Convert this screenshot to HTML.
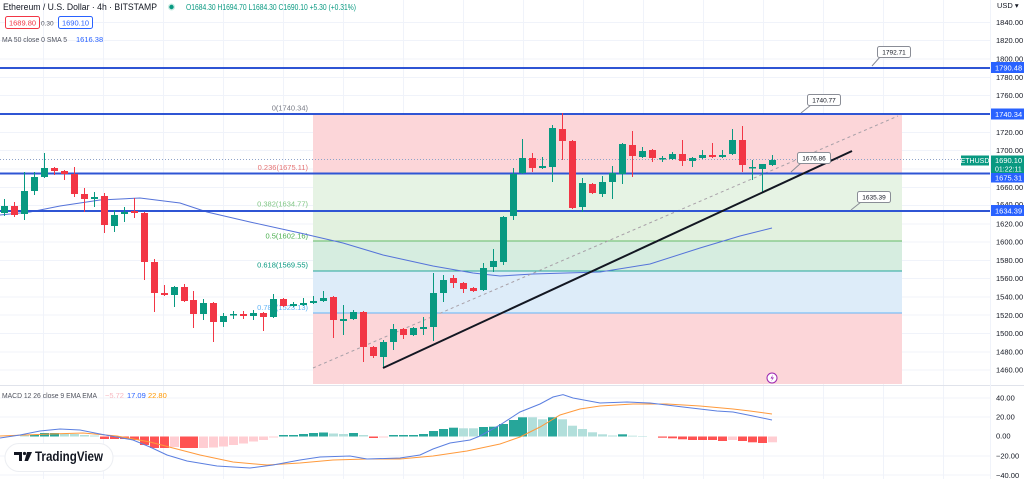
<!DOCTYPE html>
<html><head><meta charset="utf-8"><style>
html,body{margin:0;padding:0;background:#fff;}
svg{display:block;font-family:"Liberation Sans",sans-serif;}
</style></head><body>
<svg width="1024" height="479" viewBox="0 0 1024 479" xmlns="http://www.w3.org/2000/svg">
<rect width="1024" height="479" fill="#fff"/>
<!-- vertical grid -->
<g stroke="#f0f3fa" stroke-width="1">
<line x1="43.5" y1="0" x2="43.5" y2="479"/><line x1="103.5" y1="0" x2="103.5" y2="479"/><line x1="163.5" y1="0" x2="163.5" y2="479"/><line x1="223.5" y1="0" x2="223.5" y2="479"/><line x1="283.5" y1="0" x2="283.5" y2="479"/><line x1="343.5" y1="0" x2="343.5" y2="479"/><line x1="403.5" y1="0" x2="403.5" y2="479"/><line x1="463.5" y1="0" x2="463.5" y2="479"/><line x1="523.5" y1="0" x2="523.5" y2="479"/><line x1="583.5" y1="0" x2="583.5" y2="479"/><line x1="643.5" y1="0" x2="643.5" y2="479"/><line x1="703.5" y1="0" x2="703.5" y2="479"/><line x1="763.5" y1="0" x2="763.5" y2="479"/><line x1="823.5" y1="0" x2="823.5" y2="479"/><line x1="883.5" y1="0" x2="883.5" y2="479"/><line x1="943.5" y1="0" x2="943.5" y2="479"/>
</g>
<!-- horizontal grid -->
<g stroke="#f0f3fa" stroke-width="1">
<line x1="0" y1="22.5" x2="990" y2="22.5"/><line x1="0" y1="40.5" x2="990" y2="40.5"/><line x1="0" y1="59" x2="990" y2="59"/><line x1="0" y1="77.5" x2="990" y2="77.5"/><line x1="0" y1="95.5" x2="990" y2="95.5"/><line x1="0" y1="114" x2="990" y2="114"/><line x1="0" y1="132.5" x2="990" y2="132.5"/><line x1="0" y1="150.5" x2="990" y2="150.5"/><line x1="0" y1="169" x2="990" y2="169"/><line x1="0" y1="187.5" x2="990" y2="187.5"/><line x1="0" y1="205.5" x2="990" y2="205.5"/><line x1="0" y1="224" x2="990" y2="224"/><line x1="0" y1="242" x2="990" y2="242"/><line x1="0" y1="260.5" x2="990" y2="260.5"/><line x1="0" y1="278.5" x2="990" y2="278.5"/><line x1="0" y1="297" x2="990" y2="297"/><line x1="0" y1="315" x2="990" y2="315"/><line x1="0" y1="333.5" x2="990" y2="333.5"/><line x1="0" y1="352" x2="990" y2="352"/><line x1="0" y1="370" x2="990" y2="370"/>
<line x1="0" y1="398" x2="990" y2="398"/><line x1="0" y1="417" x2="990" y2="417"/><line x1="0" y1="456" x2="990" y2="456"/><line x1="0" y1="475" x2="990" y2="475"/>
</g>
<!-- fib zones -->
<rect x="313" y="114" width="589" height="59" fill="#fcd6d9"/>
<rect x="313" y="173" width="589" height="38" fill="#e6f3e4"/>
<rect x="313" y="211" width="589" height="30" fill="#e2f1df"/>
<rect x="313" y="241" width="589" height="30" fill="#d6ede0"/>
<rect x="313" y="271" width="589" height="42" fill="#ddecf9"/>
<rect x="313" y="313" width="589" height="71" fill="#fcd6d9"/>
<line x1="313" y1="241" x2="902" y2="241" stroke="#66bb6a" stroke-width="1"/>
<line x1="313" y1="271" x2="902" y2="271" stroke="#26a69a" stroke-width="1"/>
<line x1="313" y1="313" x2="902" y2="313" stroke="#64b5f6" stroke-width="1"/>
<!-- fib labels -->
<g font-size="7.5" text-anchor="end">
<text x="308" y="110.5" fill="#787b86">0(1740.34)</text>
<text x="308" y="170" fill="#e57373">0.236(1675.11)</text>
<text x="308" y="206.5" fill="#81c784">0.382(1634.77)</text>
<text x="308" y="238.5" fill="#4caf50">0.5(1602.16)</text>
<text x="308" y="267.5" fill="#089981">0.618(1569.55)</text>
<text x="308" y="310" fill="#64b5f6">0.786(1523.13)</text>
</g>
<!-- current price dotted -->
<line x1="0" y1="159.5" x2="990" y2="159.5" stroke="#8fa3c8" stroke-width="1" stroke-dasharray="1 2"/>
<!-- MA line -->
<polyline fill="none" stroke="#5573d9" stroke-width="1" points="0,215 30,212 60,206 100,200 140,198 180,203 207,212 250,222 300,233 343,243 383,255 433,266 473,273 500,276 533,274 600,272 650,264 700,248 740,236 772,228"/>
<!-- dashed line -->
<line x1="313" y1="368" x2="898" y2="116" stroke="#a8a0a8" stroke-width="1" stroke-dasharray="3 3"/>
<!-- horizontal lines -->
<g stroke="#2f55d4" stroke-width="2">
<line x1="0" y1="68" x2="991" y2="68"/>
<line x1="0" y1="114" x2="991" y2="114"/>
<line x1="0" y1="173.5" x2="991" y2="173.5"/>
<line x1="0" y1="211" x2="991" y2="211"/>
</g>
<!-- candles -->
<g fill="#089981">
<rect x="4" y="199" width="1" height="17"/><rect x="1" y="206" width="7" height="7"/>
<rect x="24" y="172" width="1" height="48"/><rect x="21" y="191" width="7" height="23"/>
<rect x="34" y="172" width="1" height="23"/><rect x="31" y="177" width="7" height="14"/>
<rect x="44" y="153" width="1" height="25"/><rect x="41" y="168" width="7" height="9"/>
<rect x="94" y="192" width="1" height="15"/><rect x="91" y="197" width="7" height="2"/>
<rect x="114" y="210" width="1" height="22"/><rect x="111" y="215" width="7" height="11"/>
<rect x="124" y="207" width="1" height="15"/><rect x="121" y="212" width="7" height="2"/>
<rect x="174" y="286" width="1" height="21"/><rect x="171" y="287" width="7" height="8"/>
<rect x="203" y="299" width="1" height="21"/><rect x="200" y="303" width="7" height="11"/>
<rect x="223" y="313" width="1" height="14"/><rect x="220" y="316" width="7" height="6"/>
<rect x="233" y="311" width="1" height="8"/><rect x="230" y="314" width="7" height="1.5"/>
<rect x="253" y="310" width="1" height="10"/><rect x="250" y="313" width="7" height="3"/>
<rect x="273" y="294" width="1" height="24"/><rect x="270" y="299" width="7" height="18"/>
<rect x="293" y="302" width="1" height="5"/><rect x="290" y="304" width="7" height="2"/>
<rect x="303" y="298" width="1" height="8"/><rect x="300" y="303" width="7" height="2"/>
<rect x="313" y="296" width="1" height="8"/><rect x="310" y="301" width="7" height="2"/>
<rect x="323" y="291" width="1" height="11"/><rect x="320" y="298" width="7" height="3"/>
<rect x="343" y="305" width="1" height="30"/><rect x="340" y="319" width="7" height="2"/>
<rect x="353" y="310" width="1" height="10"/><rect x="350" y="312" width="7" height="7"/>
<rect x="383" y="340" width="1" height="28"/><rect x="380" y="342" width="7" height="15"/>
<rect x="393" y="324" width="1" height="26"/><rect x="390" y="329" width="7" height="13"/>
<rect x="413" y="327" width="1" height="9"/><rect x="410" y="328" width="7" height="7"/>
<rect x="423" y="317" width="1" height="18"/><rect x="420" y="327" width="7" height="2"/>
<rect x="433" y="273" width="1" height="68"/><rect x="430" y="293" width="7" height="34"/>
<rect x="443" y="275" width="1" height="27"/><rect x="440" y="280" width="7" height="13"/>
<rect x="483" y="263" width="1" height="28"/><rect x="480" y="268" width="7" height="22"/>
<rect x="493" y="249" width="1" height="23"/><rect x="490" y="261" width="7" height="6"/>
<rect x="503" y="216" width="1" height="49"/><rect x="500" y="217" width="7" height="45"/>
<rect x="513" y="168" width="1" height="52"/><rect x="510" y="174" width="7" height="42"/>
<rect x="522" y="139" width="1" height="35"/><rect x="519" y="158" width="7" height="15"/>
<rect x="542" y="157" width="1" height="12"/><rect x="539" y="166" width="7" height="2"/>
<rect x="552" y="125" width="1" height="57"/><rect x="549" y="128" width="7" height="39"/>
<rect x="582" y="178" width="1" height="34"/><rect x="579" y="183" width="7" height="24"/>
<rect x="602" y="176" width="1" height="21"/><rect x="599" y="182" width="7" height="12"/>
<rect x="612" y="166" width="1" height="33"/><rect x="609" y="173" width="7" height="9"/>
<rect x="622" y="143" width="1" height="41"/><rect x="619" y="144" width="7" height="30"/>
<rect x="642" y="147" width="1" height="11"/><rect x="639" y="151" width="7" height="6"/>
<rect x="662" y="156" width="1" height="6"/><rect x="659" y="158" width="7" height="1.5"/>
<rect x="672" y="152" width="1" height="8"/><rect x="669" y="154" width="7" height="5"/>
<rect x="692" y="157" width="1" height="10"/><rect x="689" y="158" width="7" height="3"/>
<rect x="702" y="150" width="1" height="9"/><rect x="699" y="155" width="7" height="3"/>
<rect x="722" y="150" width="1" height="8"/><rect x="719" y="155" width="7" height="2"/>
<rect x="732" y="129" width="1" height="26"/><rect x="729" y="140" width="7" height="14"/>
<rect x="752" y="160" width="1" height="20"/><rect x="749" y="167" width="7" height="1.5"/>
<rect x="762" y="164" width="1" height="28"/><rect x="759" y="164" width="7" height="5"/>
<rect x="772" y="155" width="1" height="11"/><rect x="769" y="160" width="7" height="5"/>
</g>
<g fill="#f23645">
<rect x="14" y="202" width="1" height="15"/><rect x="11" y="206" width="7" height="9"/>
<rect x="54" y="167" width="1" height="8"/><rect x="51" y="168" width="7" height="3"/>
<rect x="64" y="170" width="1" height="10"/><rect x="61" y="171" width="7" height="3"/>
<rect x="74" y="167" width="1" height="30"/><rect x="71" y="174" width="7" height="20"/>
<rect x="84" y="188" width="1" height="24"/><rect x="81" y="194" width="7" height="5"/>
<rect x="104" y="193" width="1" height="40"/><rect x="101" y="196" width="7" height="29"/>
<rect x="134" y="198" width="1" height="20"/><rect x="131" y="211" width="7" height="2"/>
<rect x="144" y="212" width="1" height="68"/><rect x="141" y="213" width="7" height="49"/>
<rect x="154" y="259" width="1" height="53"/><rect x="151" y="262" width="7" height="31"/>
<rect x="164" y="285" width="1" height="11"/><rect x="161" y="293" width="7" height="2"/>
<rect x="184" y="284" width="1" height="18"/><rect x="181" y="287" width="7" height="14"/>
<rect x="193" y="291" width="1" height="37"/><rect x="190" y="300" width="7" height="14"/>
<rect x="213" y="302" width="1" height="40"/><rect x="210" y="303" width="7" height="19"/>
<rect x="243" y="311" width="1" height="8"/><rect x="240" y="314" width="7" height="2"/>
<rect x="263" y="312" width="1" height="19"/><rect x="260" y="313" width="7" height="4"/>
<rect x="283" y="298" width="1" height="9"/><rect x="280" y="299" width="7" height="7"/>
<rect x="333" y="296" width="1" height="42"/><rect x="330" y="297" width="7" height="23"/>
<rect x="363" y="311" width="1" height="51"/><rect x="360" y="312" width="7" height="35"/>
<rect x="373" y="346" width="1" height="12"/><rect x="370" y="347" width="7" height="9"/>
<rect x="403" y="328" width="1" height="11"/><rect x="400" y="329" width="7" height="6"/>
<rect x="453" y="275" width="1" height="13"/><rect x="450" y="278" width="7" height="5"/>
<rect x="463" y="282" width="1" height="11"/><rect x="460" y="283" width="7" height="6"/>
<rect x="473" y="287" width="1" height="5"/><rect x="470" y="288" width="7" height="3"/>
<rect x="532" y="153" width="1" height="19"/><rect x="529" y="158" width="7" height="10"/>
<rect x="562" y="113" width="1" height="47"/><rect x="559" y="129" width="7" height="12"/>
<rect x="572" y="140" width="1" height="69"/><rect x="569" y="141" width="7" height="67"/>
<rect x="592" y="183" width="1" height="11"/><rect x="589" y="184" width="7" height="9"/>
<rect x="632" y="131" width="1" height="46"/><rect x="629" y="145" width="7" height="11"/>
<rect x="652" y="149" width="1" height="13"/><rect x="649" y="150" width="7" height="8"/>
<rect x="682" y="140" width="1" height="26"/><rect x="679" y="154" width="7" height="7"/>
<rect x="712" y="143" width="1" height="15"/><rect x="709" y="155" width="7" height="2"/>
<rect x="742" y="126" width="1" height="46"/><rect x="739" y="140" width="7" height="25"/>
</g>
<!-- trend line -->
<line x1="383" y1="368" x2="852" y2="151" stroke="#131722" stroke-width="2"/>
<!-- callouts -->
<g stroke="#8a8d96" stroke-width="1" fill="#fff">
<line x1="872" y1="66" x2="880" y2="57"/>
<rect x="877.5" y="46.5" width="33" height="11" rx="2"/>
<line x1="801" y1="113" x2="811" y2="105"/>
<rect x="807.5" y="94.5" width="33" height="11" rx="2"/>
<line x1="791" y1="172" x2="801" y2="163"/>
<rect x="797.5" y="152.5" width="33" height="11" rx="2"/>
<line x1="851" y1="210" x2="861" y2="202"/>
<rect x="857.5" y="191.5" width="33" height="11" rx="2"/>
</g>
<g font-size="6.5" fill="#131722" text-anchor="middle">
<text x="894" y="54.5">1792.71</text>
<text x="824" y="102.5">1740.77</text>
<text x="814" y="160.5">1676.86</text>
<text x="874" y="199.5">1635.39</text>
</g>
<!-- lightning icon -->
<circle cx="772" cy="378" r="5" fill="#fff" stroke="#9c27b0" stroke-width="1"/>
<path d="M773,374.5 L770.5,378.5 L772.5,378.5 L771,381.5 L774,377.5 L772,377.5 Z" fill="#9c27b0"/>
<!-- panel separator -->
<line x1="0" y1="385.5" x2="1024" y2="385.5" stroke="#e0e3eb" stroke-width="1"/>
<line x1="990.5" y1="0" x2="990.5" y2="479" stroke="#f0f3fa" stroke-width="1"/>
<!-- MACD histogram -->
<g>
<rect x="20" y="435" width="9" height="1.5" fill="#b2dfdb"/>
<rect x="30" y="435" width="9" height="1.5" fill="#26a69a"/>
<rect x="40" y="433" width="9" height="3.5" fill="#26a69a"/>
<rect x="50" y="433" width="9" height="3.5" fill="#26a69a"/>
<rect x="60" y="434" width="9" height="2.5" fill="#b2dfdb"/>
<rect x="70" y="434" width="9" height="2.5" fill="#b2dfdb"/>
<rect x="80" y="435" width="9" height="1.5" fill="#b2dfdb"/>
<rect x="90" y="435.5" width="9" height="1" fill="#b2dfdb"/>
<rect x="100" y="436.5" width="9" height="2.5" fill="#ff5252"/>
<rect x="110" y="436.5" width="9" height="2.5" fill="#ff5252"/>
<rect x="120" y="436.5" width="9" height="2.5" fill="#ff5252"/>
<rect x="130" y="436.5" width="9" height="3.5" fill="#ff5252"/>
<rect x="140" y="436.5" width="9" height="8.5" fill="#ff5252"/>
<rect x="150" y="436.5" width="9" height="11.5" fill="#ff5252"/>
<rect x="160" y="436.5" width="9" height="11.5" fill="#ff5252"/>
<rect x="170" y="436.5" width="9" height="10.5" fill="#ffcdd2"/>
<rect x="180" y="436.5" width="9" height="11.5" fill="#ff5252"/>
<rect x="189" y="436.5" width="9" height="11.5" fill="#ff5252"/>
<rect x="199" y="436.5" width="9" height="11.5" fill="#ffcdd2"/>
<rect x="209" y="436.5" width="9" height="11" fill="#ffcdd2"/>
<rect x="219" y="436.5" width="9" height="10" fill="#ffcdd2"/>
<rect x="229" y="436.5" width="9" height="8.5" fill="#ffcdd2"/>
<rect x="239" y="436.5" width="9" height="7" fill="#ffcdd2"/>
<rect x="249" y="436.5" width="9" height="5" fill="#ffcdd2"/>
<rect x="259" y="436.5" width="9" height="3.5" fill="#ffcdd2"/>
<rect x="269" y="436.5" width="9" height="1" fill="#ffcdd2"/>
<rect x="279" y="435" width="9" height="1.5" fill="#26a69a"/>
<rect x="289" y="435" width="9" height="1.5" fill="#26a69a"/>
<rect x="299" y="434" width="9" height="2.5" fill="#26a69a"/>
<rect x="309" y="433" width="9" height="3.5" fill="#26a69a"/>
<rect x="319" y="432.5" width="9" height="4" fill="#26a69a"/>
<rect x="329" y="433.5" width="9" height="3" fill="#b2dfdb"/>
<rect x="339" y="434" width="9" height="2.5" fill="#b2dfdb"/>
<rect x="349" y="433" width="9" height="3.5" fill="#26a69a"/>
<rect x="359" y="435" width="9" height="1.5" fill="#b2dfdb"/>
<rect x="369" y="436.5" width="9" height="1.5" fill="#ff5252"/>
<rect x="379" y="436.5" width="9" height="1" fill="#ffcdd2"/>
<rect x="389" y="435" width="9" height="1.5" fill="#26a69a"/>
<rect x="399" y="435" width="9" height="1.5" fill="#26a69a"/>
<rect x="409" y="435" width="9" height="1.5" fill="#26a69a"/>
<rect x="419" y="434" width="9" height="2.5" fill="#26a69a"/>
<rect x="429" y="431" width="9" height="5.5" fill="#26a69a"/>
<rect x="439" y="429" width="9" height="7.5" fill="#26a69a"/>
<rect x="449" y="427.7" width="9" height="8.8" fill="#26a69a"/>
<rect x="459" y="428.3" width="9" height="8.2" fill="#b2dfdb"/>
<rect x="469" y="428.3" width="9" height="8.2" fill="#b2dfdb"/>
<rect x="479" y="427" width="9" height="9.5" fill="#26a69a"/>
<rect x="489" y="426.7" width="9" height="9.8" fill="#26a69a"/>
<rect x="499" y="424" width="9" height="12.5" fill="#26a69a"/>
<rect x="509" y="420" width="9" height="16.5" fill="#26a69a"/>
<rect x="518" y="417.3" width="9" height="19.2" fill="#26a69a"/>
<rect x="528" y="417.3" width="9" height="19.2" fill="#b2dfdb"/>
<rect x="538" y="419.3" width="9" height="17.2" fill="#b2dfdb"/>
<rect x="548" y="417.3" width="9" height="19.2" fill="#26a69a"/>
<rect x="558" y="419.3" width="9" height="17.2" fill="#b2dfdb"/>
<rect x="568" y="425.7" width="9" height="10.8" fill="#b2dfdb"/>
<rect x="578" y="429" width="9" height="7.5" fill="#b2dfdb"/>
<rect x="588" y="432.3" width="9" height="4.2" fill="#b2dfdb"/>
<rect x="598" y="434.3" width="9" height="2.2" fill="#b2dfdb"/>
<rect x="608" y="435.5" width="9" height="1" fill="#b2dfdb"/>
<rect x="618" y="434.3" width="9" height="2.2" fill="#26a69a"/>
<rect x="628" y="435.7" width="9" height="0.8" fill="#b2dfdb"/>
<rect x="638" y="436" width="9" height="0.5" fill="#b2dfdb"/>
<rect x="658" y="436.5" width="9" height="1.2" fill="#ff5252"/>
<rect x="668" y="436.5" width="9" height="1.8" fill="#ff5252"/>
<rect x="678" y="436.5" width="9" height="2.8" fill="#ff5252"/>
<rect x="688" y="436.5" width="9" height="3.5" fill="#ff5252"/>
<rect x="698" y="436.5" width="9" height="3.5" fill="#ff5252"/>
<rect x="708" y="436.5" width="9" height="3.5" fill="#ff5252"/>
<rect x="718" y="436.5" width="9" height="4.5" fill="#ff5252"/>
<rect x="728" y="436.5" width="9" height="3.5" fill="#ffcdd2"/>
<rect x="738" y="436.5" width="9" height="4.5" fill="#ff5252"/>
<rect x="748" y="436.5" width="9" height="5.8" fill="#ff5252"/>
<rect x="758" y="436.5" width="9" height="6.5" fill="#ff5252"/>
<rect x="768" y="436.5" width="9" height="5.8" fill="#ffcdd2"/>
</g>
<!-- MACD lines -->
<polyline fill="none" stroke="#ff9a3c" stroke-width="1" points="0,436 50,434 83,433 117,436 150,442 173,448 200,455 233,462 267,465 300,463 333,460 367,459 400,459 433,456 467,451 500,444 520,437 540,427 560,415 580,409 600,406 633,404 667,404 700,406 733,409 750,411 772,414"/>
<polyline fill="none" stroke="#5b7fe0" stroke-width="1" points="0,438 20,435 40,431 60,429 80,430 100,434 133,440 150,447 167,455 187,461 217,466 250,468 273,465 300,460 320,457 350,456 367,459 400,458 420,455 433,449 450,443 470,440 480,436 500,425 520,412 540,404 553,397 563,394.7 573,398 600,403 627,402 650,403 683,407 717,411 733,412 753,416 772,420"/>
<!-- MACD legend -->
<text x="2" y="398" font-size="7.5" fill="#50535e" textLength="95" lengthAdjust="spacingAndGlyphs">MACD 12 26 close 9 EMA EMA</text>
<text x="105" y="398" font-size="7.5" fill="#f7b8c0">−5.72</text>
<text x="127" y="398" font-size="7.5" fill="#2962ff">17.09</text>
<text x="148" y="398" font-size="7.5" fill="#ff9800">22.80</text>
<!-- TradingView logo -->
<rect x="5" y="443.5" width="108" height="28" rx="14" fill="#fff" stroke="#eceef2" stroke-width="1"/>
<path d="M14,452 h8 v9 h-3 v-6 h-5 z" fill="#131722"/>
<circle cx="24.5" cy="453.5" r="1.6" fill="#131722"/>
<path d="M27,452 h5 l-4,9 h-3.5 z" fill="#131722"/>
<text x="35" y="461" font-size="14" font-weight="bold" fill="#131722" textLength="68" lengthAdjust="spacingAndGlyphs">TradingView</text>
<!-- header -->
<text x="3" y="10" font-size="9" fill="#131722" textLength="154" lengthAdjust="spacingAndGlyphs">Ethereum / U.S. Dollar · 4h · BITSTAMP</text>
<circle cx="171.5" cy="7" r="3.5" fill="#c9ebe4"/>
<circle cx="171.5" cy="7" r="2.2" fill="#089981"/>
<text x="186" y="10" font-size="8" fill="#089981" textLength="170" lengthAdjust="spacingAndGlyphs">O1684.30 H1694.70 L1684.30 C1690.10 +5.30 (+0.31%)</text>
<rect x="5.5" y="16.5" width="34" height="12" rx="2" fill="#fff" stroke="#f23645" stroke-width="1"/>
<text x="22.5" y="25.5" font-size="7.5" fill="#f23645" text-anchor="middle">1689.80</text>
<text x="41" y="25.5" font-size="6.5" fill="#50535e">0.30</text>
<rect x="58.5" y="16.5" width="34" height="12" rx="2" fill="#fff" stroke="#2962ff" stroke-width="1"/>
<text x="75.5" y="25.5" font-size="7.5" fill="#2962ff" text-anchor="middle">1690.10</text>
<text x="2" y="42" font-size="7.5" fill="#50535e" textLength="65" lengthAdjust="spacingAndGlyphs">MA 50 close 0 SMA 5</text>
<text x="76" y="42" font-size="7.5" fill="#2962ff">1616.38</text>
<!-- price axis -->
<g font-size="7.5" fill="#131722">
<text x="997" y="8">USD ▾</text>
<text x="996" y="25">1840.00</text>
<text x="996" y="43">1820.00</text>
<text x="996" y="61.5">1800.00</text>
<text x="996" y="80">1780.00</text>
<text x="996" y="98">1760.00</text>
<text x="996" y="135">1720.00</text>
<text x="996" y="153">1700.00</text>
<text x="996" y="190">1660.00</text>
<text x="996" y="207">1640.00</text>
<text x="996" y="226.5">1620.00</text>
<text x="996" y="244.5">1600.00</text>
<text x="996" y="263">1580.00</text>
<text x="996" y="281">1560.00</text>
<text x="996" y="299.5">1540.00</text>
<text x="996" y="318">1520.00</text>
<text x="996" y="336">1500.00</text>
<text x="996" y="354.5">1480.00</text>
<text x="996" y="372.5">1460.00</text>
<text x="996" y="400.5">40.00</text>
<text x="996" y="419.5">20.00</text>
<text x="996" y="438.5">0.00</text>
<text x="996" y="458.5">−20.00</text>
<text x="996" y="478">−40.00</text>
</g>
<!-- axis boxes -->
<rect x="991" y="62" width="33" height="11" fill="#2962ff"/>
<text x="995" y="70.5" font-size="7.5" fill="#fff">1790.48</text>
<rect x="991" y="108.5" width="33" height="11" fill="#2962ff"/>
<text x="995" y="117" font-size="7.5" fill="#fff">1740.34</text>
<rect x="991" y="173" width="33" height="9.5" fill="#2962ff"/>
<text x="995" y="180.5" font-size="7.5" fill="#fff">1675.31</text>
<rect x="991" y="155.5" width="33" height="17.5" fill="#089981"/>
<text x="995" y="163" font-size="7.5" fill="#fff">1690.10</text>
<text x="995" y="171.5" font-size="7" fill="#fff">01:22:11</text>
<rect x="961" y="155.5" width="28" height="10" fill="#089981"/>
<text x="975" y="163" font-size="7" fill="#fff" text-anchor="middle">ETHUSD</text>
<rect x="991" y="205" width="33" height="11" fill="#2962ff"/>
<text x="995" y="213.5" font-size="7.5" fill="#fff">1634.39</text>
</svg>
</body></html>
